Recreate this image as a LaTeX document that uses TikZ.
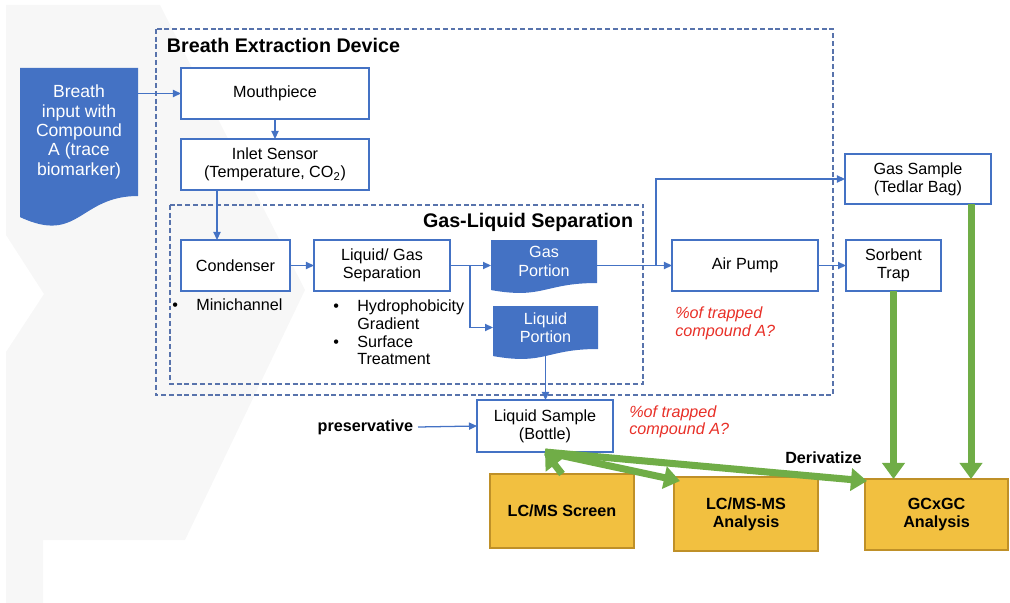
\documentclass[tikz,border=0pt]{standalone}
\usepackage{fontspec}
\setmainfont{Liberation Sans}
\usetikzlibrary{arrows.meta, calc, positioning}
\definecolor{docblue}{RGB}{68,114,196}
\definecolor{dashblue}{RGB}{88,115,172}
\definecolor{gold}{RGB}{242,192,64}
\definecolor{golddark}{RGB}{191,144,40}
\definecolor{leaf}{RGB}{112,173,71}
\definecolor{alert}{RGB}{232,48,40}
\definecolor{bggray}{RGB}{247,247,247}

% document shape: name, x, y (top left), width, body height (px), extra style, text
\newcommand{\docnode}[7]{%
  \fill[docblue] (#2,#3) -- ++(#4,0) -- ++(0,#5)
    .. controls +(-0.5*#4,0) and +(0.5*#4,0.2163*#5) .. +(-#4,0.1646*#5) -- cycle;
  \node[portion, minimum width=#4*0.025cm, minimum height=#5*0.025cm, anchor=north west, #6] (#1) at (#2,#3) {#7};}

\begin{document}
\begin{tikzpicture}[x=0.025cm, y=-0.025cm,
  every node/.append style={font=\fontsize{11.5}{13}\selectfont},
  box/.style={draw=docblue, line width=0.8pt, fill=white, align=center, inner sep=2pt, outer sep=0pt},
  portion/.style={text=white, align=center, inner sep=0pt, outer sep=0pt},
  flow/.style={draw=docblue, line width=0.9pt, -{Triangle[length=2mm,width=1.8mm]}},
  region/.style={draw=dashblue, line width=0.8pt, dash pattern=on 3.5pt off 2pt},
  assay/.style={draw=golddark, line width=0.8pt, fill=gold, align=center, outer sep=0pt, font=\bfseries\fontsize{11.5}{13}\selectfont},
  feed/.style={draw=leaf, line width=5pt, -{Triangle[length=4mm,width=5.5mm]}},
  note/.style={text=alert, align=left, inner sep=0pt, font=\itshape\fontsize{11.5}{12.5}\selectfont},
  heading/.style={font=\bfseries\fontsize{14}{16}\selectfont}]

  \useasboundingbox (0,0) rectangle (1010,603);

  % slide background
  \fill[bggray] (6,5) -- (160,5) -- (305,290) -- (185,540) -- (43,540) -- (43,603)
    -- (6,603) -- (6,352) -- (44,294) -- (6,235) -- cycle;

  % device and separation regions
  \draw[region] (156,29) rectangle (833,395);
  \node[heading, anchor=west] (devtitle) at (162,45) {Breath Extraction Device};
  \draw[region] (170,205) rectangle (643,384);
  \node[heading, anchor=east] (septitle) at (638,222) {Gas-Liquid Separation};

  \docnode{breath}{20}{68}{118}{128}{font=\fontsize{12.5}{13.8}\selectfont}{Breath\\input with\\Compound\\A (trace\\biomarker)}
  \docnode{gpor}{491}{240}{106}{43}{}{Gas\\Portion}
  \docnode{lpor}{493}{306}{105}{43}{}{Liquid\\Portion}

  \node[box, minimum width=4.7cm, minimum height=1.275cm] (mouth) at (275,93.5) {Mouthpiece};
  \node[box, minimum width=4.7cm, minimum height=1.275cm] (inlet) at (275,164.5) {Inlet Sensor\\(Temperature, CO\textsubscript{2})};
  \node[box, minimum width=2.725cm, minimum height=1.275cm] (cond) at (235.5,265.5) {Condenser};
  \node[box, minimum width=3.4cm, minimum height=1.275cm] (lgsep) at (382,265.5) {Liquid/ Gas\\Separation};
  \node[box, minimum width=3.65cm, minimum height=1.275cm] (air) at (745,265.5) {Air Pump};
  \node[box, minimum width=3.65cm, minimum height=1.25cm] (bag) at (918,179) {Gas Sample\\(Tedlar Bag)};
  \node[box, minimum width=2.375cm, minimum height=1.275cm] (trap) at (893.5,265.5) {Sorbent\\Trap};
  \node[box, minimum width=3.4cm, minimum height=1.3cm] (bottle) at (545,426) {Liquid Sample\\(Bottle)};

  \node[assay, minimum width=3.6cm, minimum height=1.85cm] (screen) at (562,511) {LC/MS Screen};
  \node[assay, minimum width=3.6cm, minimum height=1.85cm] (msms) at (746,514) {LC/MS-MS\\Analysis};
  \node[assay, minimum width=3.575cm, minimum height=1.775cm] (gcgc) at (936.5,514.5) {GCxGC\\Analysis};

  % bullet notes
  \node[anchor=west, inner sep=0pt] (mininote) at (172,307)
    {\begin{tabular}{@{}p{0.6cm}@{}l@{}}\textbullet & Minichannel\end{tabular}};
  \node[anchor=north west, inner sep=0pt, font=\fontsize{11.5}{12.6}\selectfont] (lgnote) at (333,299)
    {\begin{tabular}{@{}p{0.6cm}@{}l@{}}\textbullet & Hydrophobicity\\ & Gradient\\ \textbullet & Surface\\ & Treatment\end{tabular}};

  \node[note, anchor=west] (pumpnote) at (675,323.5) {\%of trapped\\compound A?};
  \node[note, anchor=west] (bottlenote) at (629,422) {\%of trapped\\compound A?};

  \node[font=\bfseries\fontsize{11.5}{13}\selectfont, anchor=east] (pres) at (418,427) {preservative};
  \node[font=\bfseries\fontsize{11.5}{13}\selectfont] (deriv) at (823.5,458) {Derivatize};

  % gas and liquid paths
  \draw[flow] (mouth.west -| breath.east) -- (mouth.west);
  \draw[flow] (mouth.south) -- (inlet.north);
  \coordinate (drop) at (217,190);
  \draw[flow] (drop) -- (drop |- cond.north);
  \draw[flow] (cond.east) -- (lgsep.west);
  \draw[flow] (lgsep.east) -- (lgsep.east -| gpor.west);
  \coordinate (split) at (470,265.5);
  \draw[flow] (split) |- (lpor.west);
  \draw[flow] (air.west -| gpor.east) -- (air.west);
  \coordinate (tap) at (656,265.5);
  \draw[flow] (tap) |- (bag.west);
  \draw[flow] (air.east) -- (trap.west);
  \draw[flow] (lpor.south) -- (lpor.south |- bottle.north);
  \draw[flow] (pres.east) -- (bottle.west);

  % to the analyses
  \coordinate (bagout) at (971,204);
  \draw[feed] (bagout) -- (bagout |- gcgc.north);
  \draw[feed] (trap.south) -- (trap.south |- gcgc.north);
  \draw[feed] (screen.north) -- (bottle.south);
  \coordinate (msmsin) at (680,481);
  \coordinate (gcgcin) at (867,481);
  \draw[feed] (bottle.south) -- (msmsin);
  \draw[feed] (bottle.south) -- (gcgcin);

\end{tikzpicture}
\end{document}
